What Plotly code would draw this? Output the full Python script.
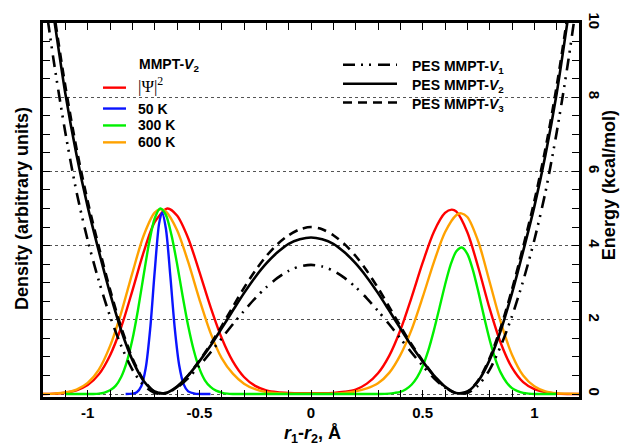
import plotly.graph_objects as go

# ---------------- data ----------------
# probability densities (arbitrary units) along r1-r2 (Angstrom)
r_red = [-1.2, -1.15, -1.1, -1.05, -1.0, -0.95, -0.9, -0.85, -0.8, -0.75, -0.7, -0.643,
         -0.6, -0.55, -0.5, -0.45, -0.4, -0.35, -0.3, -0.25, -0.2, -0.15, -0.1, -0.05,
         0.0, 0.05, 0.1, 0.15, 0.2, 0.25, 0.3, 0.35, 0.4, 0.45, 0.5, 0.55, 0.6, 0.63,
         0.65, 0.7, 0.75, 0.8, 0.85, 0.9, 0.95, 1.0, 1.05, 1.1, 1.15, 1.2]
psi2 = [0.0, 0.01, 0.035, 0.10, 0.24, 0.53, 1.04, 1.80, 2.78, 3.81, 4.63, 5.0,
        4.81, 4.20, 3.30, 2.35, 1.51, 0.88, 0.46, 0.22, 0.10, 0.05, 0.03, 0.02,
        0.02, 0.02, 0.03, 0.06, 0.12, 0.28, 0.56, 1.03, 1.72, 2.60, 3.54, 4.37, 4.88, 4.97,
        4.92, 4.36, 3.39, 2.30, 1.37, 0.71, 0.32, 0.13, 0.05, 0.01, 0.0, 0.0]

r_50k = [-0.83, -0.80, -0.78, -0.76, -0.74, -0.72, -0.70, -0.68, -0.667, -0.65, -0.63,
         -0.61, -0.59, -0.57, -0.55, -0.52, -0.48, -0.45]
rho_50k = [0.0, 0.01, 0.05, 0.21, 0.70, 1.76, 3.29, 4.60, 4.89, 4.47, 3.19,
           1.77, 0.77, 0.26, 0.07, 0.01, 0.0, 0.0]

r_300k = [-1.1, -1.05, -1.0, -0.975, -0.95, -0.925, -0.9, -0.875, -0.85, -0.825, -0.8,
          -0.775, -0.75, -0.725, -0.7, -0.675, -0.65, -0.625, -0.6, -0.575, -0.55, -0.525,
          -0.5, -0.475, -0.45, -0.425, -0.4, -0.375, -0.35, -0.3, -0.2, -0.1, 0.0, 0.1,
          0.2, 0.3, 0.35, 0.375, 0.4, 0.425, 0.45, 0.475, 0.5, 0.525, 0.55, 0.575, 0.6,
          0.625, 0.65, 0.675, 0.7, 0.725, 0.75, 0.775, 0.8, 0.825, 0.85, 0.875, 0.9,
          0.925, 0.95, 0.975, 1.0, 1.05, 1.1]
rho_300k = [0.0, 0.0, 0.0, 0.0, 0.01, 0.04, 0.10, 0.22, 0.46, 0.86, 1.46,
            2.26, 3.18, 4.07, 4.73, 5.0, 4.83, 4.29, 3.52, 2.65, 1.84, 1.18,
            0.69, 0.37, 0.19, 0.09, 0.04, 0.01, 0.0, 0.0, 0.0, 0.0, 0.0, 0.0,
            0.0, 0.0, 0.01, 0.03, 0.06, 0.13, 0.25, 0.45, 0.75, 1.17, 1.71, 2.32, 2.94,
            3.48, 3.84, 3.95, 3.78, 3.34, 2.74, 2.08, 1.46, 0.95, 0.57, 0.32, 0.16,
            0.08, 0.03, 0.01, 0.0, 0.0, 0.0]

r_600k = [-1.2, -1.15, -1.1, -1.05, -1.0, -0.95, -0.9, -0.85, -0.8, -0.75, -0.7, -0.673,
          -0.65, -0.6, -0.55, -0.5, -0.45, -0.4, -0.35, -0.3, -0.25, -0.2, -0.15, -0.1,
          -0.05, 0.0, 0.05, 0.1, 0.15, 0.2, 0.25, 0.3, 0.35, 0.4, 0.45, 0.5, 0.55, 0.6,
          0.65, 0.673, 0.7, 0.75, 0.8, 0.85, 0.9, 0.95, 1.0, 1.05, 1.1, 1.15, 1.2]
rho_600k = [0.0, 0.01, 0.04, 0.12, 0.30, 0.66, 1.29, 2.19, 3.26, 4.26, 4.89, 4.98,
            4.92, 4.42, 3.56, 2.56, 1.65, 0.97, 0.55, 0.28, 0.13, 0.05, 0.02, 0.01,
            0.01, 0.01, 0.01, 0.01, 0.03, 0.07, 0.15, 0.29, 0.57, 1.05, 1.73, 2.61, 3.55, 4.36,
            4.82, 4.87, 4.77, 4.09, 3.02, 1.93, 1.06, 0.50, 0.21, 0.07, 0.02, 0.01, 0.0]

# potential energy surfaces (kcal/mol)
r_pes = [-1.2, -1.15, -1.1, -1.05, -1.0, -0.95, -0.9, -0.85, -0.8, -0.75, -0.7, -0.65,
         -0.6, -0.55, -0.5, -0.45, -0.4, -0.35, -0.3, -0.25, -0.2, -0.15, -0.1, -0.05,
         0.0, 0.05, 0.1, 0.15, 0.2, 0.25, 0.3, 0.35, 0.4, 0.45, 0.5, 0.55, 0.6, 0.65,
         0.7, 0.75, 0.8, 0.85, 0.9, 0.95, 1.0, 1.05, 1.1, 1.15, 1.2]
pes_v1 = [11.0, 8.9, 7.05, 5.45, 4.15, 3.05, 2.1, 1.3, 0.66, 0.24, 0.03, 0.03,
          0.17, 0.43, 0.76, 1.12, 1.5, 1.88, 2.24, 2.58, 2.88, 3.13, 3.32, 3.44,
          3.48, 3.44, 3.32, 3.13, 2.88, 2.58, 2.24, 1.88, 1.5, 1.12, 0.76, 0.43, 0.17, 0.03,
          0.03, 0.24, 0.66, 1.3, 2.1, 3.05, 4.15, 5.45, 7.05, 8.9, 11.0]
pes_v2 = [12.1, 10.1, 8.1, 6.45, 5.05, 3.85, 2.72, 1.72, 0.92, 0.36, 0.07, 0.03,
          0.2, 0.5, 0.88, 1.3, 1.77, 2.25, 2.72, 3.15, 3.52, 3.82, 4.05, 4.17,
          4.22, 4.17, 4.05, 3.82, 3.52, 3.15, 2.72, 2.25, 1.77, 1.3, 0.88, 0.5, 0.2, 0.03,
          0.07, 0.36, 0.92, 1.72, 2.72, 3.85, 5.05, 6.45, 8.1, 10.1, 12.1]
pes_v3 = [12.4, 10.25, 8.3, 6.62, 5.2, 3.97, 2.82, 1.8, 0.97, 0.38, 0.06, 0.02,
          0.19, 0.5, 0.9, 1.34, 1.83, 2.35, 2.86, 3.32, 3.72, 4.04, 4.28, 4.44,
          4.5, 4.44, 4.28, 4.04, 3.72, 3.32, 2.86, 2.35, 1.83, 1.34, 0.9, 0.5, 0.19, 0.02,
          0.06, 0.38, 0.97, 1.8, 2.82, 3.97, 5.2, 6.62, 8.3, 10.25, 12.4]

x_tickvals = [-1, -0.5, 0, 0.5, 1]
x_ticktext = ["-1", "-0.5", "0", "0.5", "1"]
e_tickvals = [0, 2, 4, 6, 8, 10]
e_ticktext = ["0", "2", "4", "6", "8", "10"]

# ---------------- style ----------------
RED, BLUE, GREEN, ORANGE = "#ff0000", "#0a14ff", "#00f000", "#ffa200"
FONT = "Liberation Sans"
V1_DASH = "12px,6px,2px,6px,2px,7px"
V3_DASH = "9px,6px"

W, H = 624, 447
ML, MR, MT, MB = 43, 45, 21, 50


def px(xp):
    return (xp - ML) / (W - ML - MR)


def py(yp):
    return (H - MB - yp) / (H - MT - MB)


fig = go.Figure()

dens = [
    (r_red, psi2, RED),
    (r_600k, rho_600k, ORANGE),
    (r_300k, rho_300k, GREEN),
    (r_50k, rho_50k, BLUE),
]
for xs, ys, col in dens:
    fig.add_trace(go.Scatter(x=xs, y=ys, mode="lines", yaxis="y",
                             line=dict(color=col, width=2.4, shape="spline", smoothing=0.8),
                             showlegend=False, hoverinfo="skip"))

pes = [
    (pes_v1, V1_DASH),
    (pes_v3, V3_DASH),
    (pes_v2, "solid"),
]
for ys, dash in pes:
    fig.add_trace(go.Scatter(x=r_pes, y=ys, mode="lines", yaxis="y2",
                             line=dict(color="black", width=2.6, dash=dash,
                                       shape="spline", smoothing=0.8),
                             showlegend=False, hoverinfo="skip"))

# ---------------- legend (drawn by hand) ----------------
shapes = []
annotations = []
bold = dict(family=FONT, size=14, color="black", weight="bold")
serif = dict(family="Liberation Serif", size=17, color="black", weight="normal")


def note(xp, yp, text, font, xanchor="left", angle=0):
    annotations.append(dict(x=px(xp), y=py(yp), xref="paper", yref="paper",
                            text=text, showarrow=False, textangle=angle,
                            xanchor=xanchor, yanchor="middle", font=font))


note(137, 63, "MMPT-<i>V</i><sub>2</sub>", bold)
left_items = [
    (RED, 86, "|Ψ|<sup>2</sup>", serif),
    (BLUE, 107, "50 K", bold),
    (GREEN, 124, "300 K", bold),
    (ORANGE, 141, "600 K", bold),
]
for col, yp, label, fnt in left_items:
    shapes.append(dict(type="line", xref="paper", yref="paper",
                       x0=px(103), x1=px(126), y0=py(yp), y1=py(yp),
                       line=dict(color=col, width=2.4)))
    note(136, yp - (3 if fnt is serif else 0), label, fnt)

right_items = [
    (V1_DASH, 63, "PES MMPT-<i>V</i><sub>1</sub>"),
    ("solid", 82, "PES MMPT-<i>V</i><sub>2</sub>"),
    (V3_DASH, 101, "PES MMPT-<i>V</i><sub>3</sub>"),
]
for dash, yp, label in right_items:
    shapes.append(dict(type="line", xref="paper", yref="paper",
                       x0=px(343), x1=px(397), y0=py(yp), y1=py(yp),
                       line=dict(color="black", width=2.4, dash=dash)))
    note(410, yp + 2, label, bold)

# axis titles
title_font = dict(family=FONT, size=18, color="black", weight="bold")
note(22, 208, "Density (arbitrary units)", title_font, xanchor="center", angle=-90)
note(609, 184, "Energy (kcal/mol)", title_font, xanchor="center", angle=-90)
note(312, 435, "<i>r</i><sub>1</sub>-<i>r</i><sub>2</sub>, Å", title_font, xanchor="center")

tick_font = dict(family=FONT, size=15, color="black", weight="bold")

fig.update_layout(
    width=W, height=H,
    margin=dict(l=ML, r=MR, t=MT, b=MB, pad=0),
    paper_bgcolor="white", plot_bgcolor="white",
    shapes=shapes, annotations=annotations,
    xaxis=dict(range=[-1.2, 1.2], tickvals=x_tickvals, ticktext=x_ticktext,
               ticks="inside", ticklen=7, tickwidth=1, tickcolor="black",
               minor=dict(dtick=0.1, tick0=0, ticks="inside", ticklen=7,
                          tickwidth=1, tickcolor="black", showgrid=False),
               showline=True, linewidth=3, linecolor="black", mirror="ticks",
               showgrid=False, zeroline=False, tickfont=tick_font),
    yaxis=dict(range=[-0.08, 10], tick0=0, dtick=2,
               ticks="inside", ticklen=7, tickwidth=1, tickcolor="black",
               minor=dict(dtick=0.5, tick0=0, ticks="inside", ticklen=7,
                          tickwidth=1, tickcolor="black", showgrid=False),
               showticklabels=False,
               showgrid=True, gridcolor="#555555", gridwidth=1, griddash="dot",
               showline=True, linewidth=3, linecolor="black", mirror="ticks",
               zeroline=False),
    yaxis2=dict(range=[-0.08, 10], overlaying="y", side="right", anchor="x",
                tickvals=e_tickvals, ticktext=e_ticktext, ticks="",
                ticklabelstandoff=6,
                tickangle=90, tickfont=tick_font,
                showgrid=False, showline=False, zeroline=False),
)

fig.write_html("out.html")
